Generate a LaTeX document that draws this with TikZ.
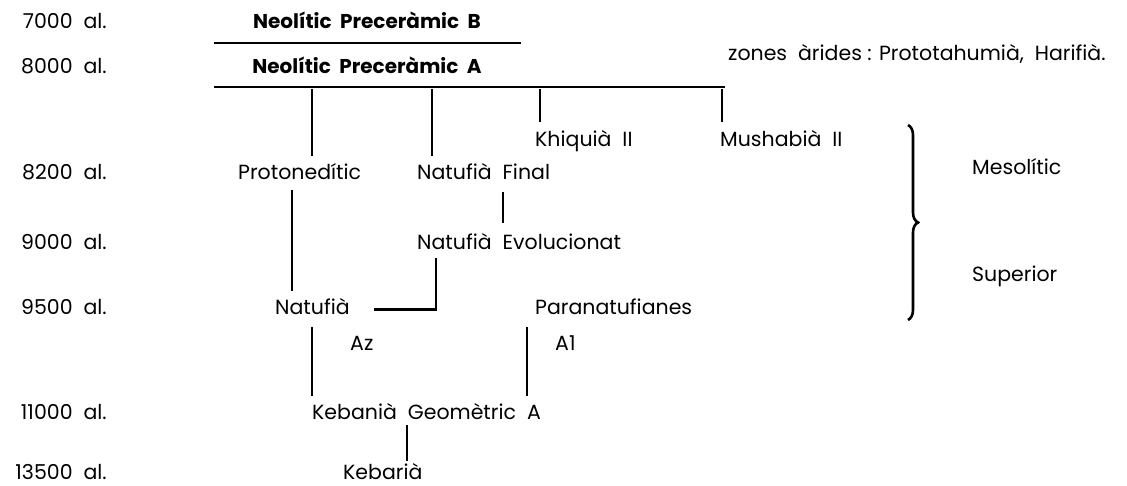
\documentclass[tikz,border=0pt]{standalone}
\usepackage{fontspec}
\setmainfont{Poppins}
\usetikzlibrary{decorations.pathreplacing}
\begin{document}
\begin{tikzpicture}[x=1pt, y=-1pt,
    ln/.style={line width=2.5pt},
    txt/.style={anchor=base west, inner sep=0pt, text height=15pt, text depth=4pt,
      font=\fontsize{20.5}{24}\selectfont},
    yr/.style={txt, anchor=base east},
    head/.style={txt, anchor=base, font=\fontsize{20}{24}\selectfont\bfseries}]
  \useasboundingbox (0,0) rectangle (1127,486);
  % years
  \node[yr] (y7000)  at (107,29)  {7000\ \ al.};
  \node[yr] (y8000)  at (107,74)  {8000\ \ al.};
  \node[yr] (y8200)  at (107,180) {8200\ \ al.};
  \node[yr] (y9000)  at (107,250) {9000\ \ al.};
  \node[yr] (y9500)  at (107,315) {9500\ \ al.};
  \node[yr] (y11000) at (107,419) {11000\ \ al.};
  \node[yr] (y13500) at (107,479) {13500\ \ al.};
  % neolitic
  \node[head] (npb) at (367,29) {Neolític\ \ Preceràmic\ \ B};
  \node[head] (npa) at (367,74) {Neolític\ \ Preceràmic\ \ A};
  \coordinate (bl) at (214,43);
  \coordinate (br) at (521,43);
  \coordinate (al) at (214,87);
  \coordinate (ar) at (725,87);
  \draw[ln] (bl) -- (br);
  \draw[ln] (al) -- (ar);
  \node[txt] (arid) at (728,61) {zones\ \ àrides\ : Prototahumià,\ \ Harifià.};
  % cultures
  \node[txt] (khiq)  at (535,147) {Khiquià\ \ II};
  \node[txt] (mush)  at (720,147) {Mushabià\ \ II};
  \node[txt] (proton) at (238,180) {Protonedític};
  \node[txt] (final) at (417,180) {Natufià\ \ Final};
  \node[txt] (evol)  at (417,250) {Natufià\ \ Evolucionat};
  \node[txt] (natuf) at (275,315) {Natufià};
  \node[txt] (para)  at (535,315) {Paranatufianes};
  \node[txt] (az)    at (350,350) {Az};
  \node[txt] (aone)  at (555,350) {A1};
  \node[txt] (keban) at (312,419) {Kebanià\ \ Geomètric\ \ A};
  \node[txt] (kebar) at (343,479) {Kebarià};
  % links
  \draw[ln, shorten <=2pt, shorten >=9pt] ([xshift=98pt]al) -- ([xshift=98pt]al |- proton.north);
  \draw[ln, shorten <=2pt, shorten >=9pt] ([xshift=218pt]al) -- ([xshift=218pt]al |- final.north);
  \draw[ln, shorten <=2pt, shorten >=10pt] ([xshift=326pt]al) -- ([xshift=326pt]al |- khiq.north);
  \draw[ln, shorten <=2pt, shorten >=10pt] ([xshift=508pt]al) -- ([xshift=508pt]al |- mush.north);
  \draw[ln, shorten <=6pt, shorten >=9pt] ([xshift=54pt]proton.south west) -- ([xshift=54pt]proton.south west |- natuf.north);
  \draw[ln, shorten <=8pt, shorten >=12pt] ([xshift=86pt]final.south west) -- ([xshift=86pt]final.south west |- evol.north);
  \draw[ln, shorten <=4pt] ([xshift=19pt]evol.south west) |- ([xshift=24pt]natuf.east);
  \draw[ln, shorten <=8pt, shorten >=8pt] ([xshift=37pt]natuf.south west) -- ([xshift=37pt]natuf.south west |- keban.north);
  \draw[ln, shorten <=8pt, shorten >=8pt] ([xshift=-8pt]para.south west) -- ([xshift=-8pt]para.south west |- keban.north);
  \draw[ln, shorten <=2pt, shorten >=3pt] ([xshift=95pt]keban.south west) -- ([xshift=95pt]keban.south west |- kebar.north);
  % brace
  \coordinate (bt) at (908,125);
  \coordinate (bb) at (908,320);
  \draw[line width=2.6pt, decorate, decoration={brace, amplitude=10pt}] (bt) -- (bb);
  \node[txt] (meso) at (972,175) {Mesolític};
  \node[txt] (sup)  at (972,282) {Superior};
\end{tikzpicture}
\end{document}
